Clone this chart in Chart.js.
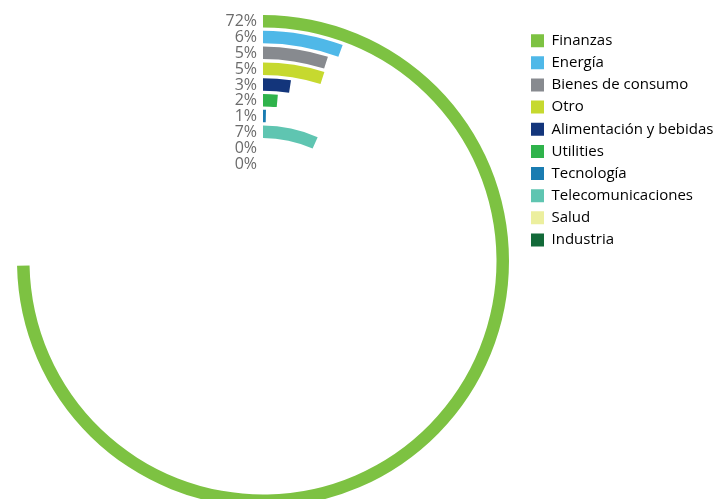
<!DOCTYPE html>
<html><head><meta charset="utf-8">
<script src="https://cdn.jsdelivr.net/npm/chart.js@4.4.1/dist/chart.umd.min.js"></script>
<style>html,body{margin:0;padding:0;background:#fff;overflow:hidden}canvas{display:block}</style>
</head><body><canvas id="c" width="717" height="499"></canvas>
<script>
// ---- data ----
const categories = ["Finanzas","Energía","Bienes de consumo","Otro","Alimentación y bebidas","Utilities","Tecnología","Telecomunicaciones","Salud","Industria"];
const shareValues = [71.7, 5.4, 4.7, 4.8, 2.35, 1.36, 0.3, 6.35, 0, 0];
const shareLabels = ["72%","6%","5%","5%","3%","2%","1%","7%","0%","0%"];
const ringColors = ["#7dc242","#4fb8e8","#878a8f","#c6d92f","#13357b","#2fb34b","#1a7cb1","#5fc5b1","#ecef9e","#136a39"];
const scaleMax = 96;

// ---- build datasets (rings, outermost first, with transparent spacer rings between) ----
const RING_W = 12.5, GAP_W = 3.3;
const datasets = [];
categories.forEach((name, i) => {
  datasets.push({
    label: name,
    data: [shareValues[i], scaleMax - shareValues[i]],
    backgroundColor: [ringColors[i], "rgba(0,0,0,0)"],
    borderWidth: 0,
    weight: RING_W,
    _cat: i
  });
  if (i < categories.length - 1) {
    datasets.push({ label: "", data: [1], backgroundColor: ["rgba(0,0,0,0)"], borderWidth: 0, weight: GAP_W, _spacer: true });
  }
});

const layoutFix = {
  id: "layoutFix",
  afterLayout(chart) {
    const a = chart.chartArea;
    a.left = 17; a.top = 15; a.right = 509; a.bottom = 507; a.width = 492; a.height = 492;
    const lg = chart.legend;
    if (lg) {
      lg.left = 523.85; lg.right = 717; lg.top = 26; lg.bottom = 499;
      lg.width = lg.right - lg.left; lg.height = lg.bottom - lg.top;
    }
  }
};

const pctLabels = {
  id: "pctLabels",
  afterDatasetsDraw(chart) {
    const ctx = chart.ctx;
    ctx.save();
    ctx.font = "16px 'Open Sans'";
    ctx.fillStyle = "#6b6b6b";
    ctx.textAlign = "right";
    ctx.textBaseline = "middle";
    chart.data.datasets.forEach((ds, di) => {
      if (ds._spacer) return;
      const arc = chart.getDatasetMeta(di).data[0];
      const y = arc.y - (arc.outerRadius + arc.innerRadius) / 2;
      ctx.fillText(shareLabels[ds._cat], arc.x - 6, y + 0.5);
    });
    ctx.restore();
  }
};

new Chart(document.getElementById("c"), {
  type: "doughnut",
  data: { labels: ["valor", "resto"], datasets },
  options: {
    responsive: false,
    animation: false,
    events: [],
    cutout: 91.3,
    layout: { padding: 0 },
    plugins: {
      tooltip: { enabled: false },
      legend: {
        position: "right",
        align: "start",
        onClick: null,
        labels: {
          boxWidth: 13,
          boxHeight: 13,
          padding: 7.15,
          color: "#595959",
          font: { family: "'Open Sans'", size: 15 },
          generateLabels(chart) {
            return chart.data.datasets
              .map((ds, di) => ({ ds, di }))
              .filter(o => !o.ds._spacer)
              .map(o => ({
                text: o.ds.label,
                fillStyle: ringColors[o.ds._cat],
                strokeStyle: ringColors[o.ds._cat],
                lineWidth: 0,
                hidden: false,
                datasetIndex: o.di
              }));
          }
        }
      }
    }
  },
  plugins: [layoutFix, pctLabels]
});
</script>
</body></html>
